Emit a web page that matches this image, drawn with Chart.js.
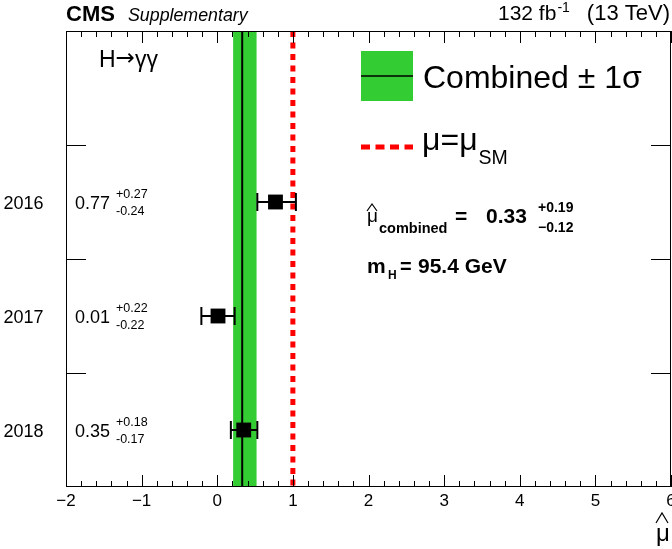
<!DOCTYPE html>
<html>
<head>
<meta charset="utf-8">
<script src="https://cdn.jsdelivr.net/npm/chart.js@4/dist/chart.umd.min.js"></script>
<style>
    html, body { margin: 0; padding: 0; background: #fff; }
    #wrap { width: 672px; height: 549px; position: relative; }
</style>
</head>
<body>
<div id="wrap"><canvas id="muChart" width="672" height="549"></canvas></div>
<script>
const years = ['2016', '2017', '2018'];
const muValues = [0.77, 0.01, 0.35];
const muErrUp = [0.27, 0.22, 0.18];
const muErrDown = [0.24, 0.22, 0.17];

const combinedMu = 0.33;
const combinedErrUp = 0.19;
const combinedErrDown = 0.12;
const smMu = 1;
const massLabel = '95.4 GeV';

const xTickValues = [-2, -1, 0, 1, 2, 3, 4, 5, 6];
const xTickLabels = ['\u22122', '\u22121', '0', '1', '2', '3', '4', '5', '6'];
const xMinorStep = 0.2;

const FONT = '"Liberation Sans", Arial, Helvetica, sans-serif';
const GREEN = '#33cc33';
const RED = '#ff0000';

// one empty slot on top for the channel label / legend
const ySlots = years.length + 1;
const rowY = i => years.length - i - 0.5;

function setFont(ctx, size, style, family) {
    ctx.font = `${style || ''} ${size}px ${family || FONT}`;
}

function text(ctx, str, x, y, size, style, align, family) {
    setFont(ctx, size, style, family);
    ctx.textAlign = align || 'left';
    ctx.textBaseline = 'alphabetic';
    ctx.fillStyle = '#000';
    ctx.fillText(str, x, y);
    return ctx.measureText(str).width;
}

function hat(ctx, x, y, w, h) {
    ctx.save();
    ctx.strokeStyle = '#000';
    ctx.lineWidth = 1.2;
    ctx.beginPath();
    ctx.moveTo(x, y);
    ctx.lineTo(x + w / 2, y - h);
    ctx.lineTo(x + w, y);
    ctx.stroke();
    ctx.restore();
}

const bandPlugin = {
    id: 'band',
    beforeDatasetsDraw(chart) {
        const { ctx, chartArea, scales: { x } } = chart;
        const lo = x.getPixelForValue(combinedMu - combinedErrDown);
        const hi = x.getPixelForValue(combinedMu + combinedErrUp);
        ctx.save();
        ctx.fillStyle = GREEN;
        ctx.fillRect(lo, chartArea.top, hi - lo, chartArea.bottom - chartArea.top);
        ctx.restore();
    }
};

const decorPlugin = {
    id: 'decor',
    afterDatasetsDraw(chart) {
        const { ctx, chartArea: a, scales: { x, y } } = chart;
        ctx.save();
        ctx.strokeStyle = '#000';
        ctx.lineWidth = 1;

        // frame
        ctx.strokeRect(a.left + 0.5, a.top + 0.5, a.right - a.left - 1, a.bottom - a.top - 1);

        // x ticks, bottom and top, pointing inwards
        ctx.beginPath();
        const first = xTickValues[0];
        const last = xTickValues[xTickValues.length - 1];
        const nMinor = Math.round((last - first) / xMinorStep);
        for (let k = 0; k <= nMinor; k++) {
            const v = first + k * xMinorStep;
            const major = Math.abs(v - Math.round(v)) < 1e-6;
            const len = major ? 12 : 6;
            const px = Math.round(x.getPixelForValue(v)) + 0.5;
            ctx.moveTo(px, a.bottom);
            ctx.lineTo(px, a.bottom - len);
            ctx.moveTo(px, a.top);
            ctx.lineTo(px, a.top + len);
        }
        // y ticks on slot boundaries
        for (let b = 1; b < ySlots; b++) {
            const py = Math.round(y.getPixelForValue(b)) + 0.5;
            ctx.moveTo(a.left, py);
            ctx.lineTo(a.left + 20, py);
            ctx.moveTo(a.right, py);
            ctx.lineTo(a.right - 20, py);
        }
        ctx.stroke();

        // x tick labels
        xTickValues.forEach((v, i) => {
            text(ctx, xTickLabels[i], x.getPixelForValue(v), 506, 17, '', 'center');
        });

        // axis title
        text(ctx, '\u03bc', 656, 541, 24);
        hat(ctx, 656, 523, 12, 10);

        // year labels and per-year results
        years.forEach((yr, i) => {
            const py = y.getPixelForValue(rowY(i));
            text(ctx, yr, 23.5, py + 6.5, 18, '', 'center');
            text(ctx, muValues[i].toFixed(2), 110, py + 6.5, 18, '', 'right');
            text(ctx, '+' + muErrUp[i].toFixed(2), 116, py - 4, 12.5);
            text(ctx, '-' + muErrDown[i].toFixed(2), 116, py + 13, 12.5);
        });

        // header
        text(ctx, 'CMS', 66, 21, 22, 'bold');
        text(ctx, 'Supplementary', 128, 21, 17.8, 'italic');
        text(ctx, '(13 TeV)', 670, 20, 22, '', 'right');
        let hx = 498;
        hx += text(ctx, '132 fb', hx, 20, 21);
        text(ctx, '-1', hx + 1, 12, 14);

        // channel label
        let cx = 99;
        cx += text(ctx, 'H', cx, 67, 23);
        cx += text(ctx, '\u2192', cx, 65, 23, '', 'left', '"DejaVu Sans", sans-serif');
        text(ctx, '\u03b3\u03b3', cx, 67, 23);

        // legend: combined band
        ctx.fillStyle = GREEN;
        ctx.fillRect(361, 51, 52, 50);
        ctx.beginPath();
        ctx.strokeStyle = '#000';
        ctx.lineWidth = 1.5;
        ctx.moveTo(361, 76);
        ctx.lineTo(413, 76);
        ctx.stroke();
        text(ctx, 'Combined \u00b1 1\u03c3', 423, 88, 32);

        // legend: SM line
        ctx.beginPath();
        ctx.strokeStyle = RED;
        ctx.lineWidth = 5;
        ctx.setLineDash([9, 5.5]);
        ctx.moveTo(361, 147);
        ctx.lineTo(413, 147);
        ctx.stroke();
        ctx.setLineDash([]);
        const w = text(ctx, '\u03bc=\u03bc', 422, 150, 32);
        text(ctx, 'SM', 422 + w + 1, 164, 19.5);

        // combined result
        text(ctx, '\u03bc', 367, 222, 19);
        hat(ctx, 367, 211, 10, 7);
        text(ctx, 'combined', 379, 233, 14.5, 'bold');
        text(ctx, '=', 455, 223, 21, 'bold');
        text(ctx, combinedMu.toFixed(2), 486, 223, 21, 'bold');
        text(ctx, '+' + combinedErrUp.toFixed(2), 538, 212, 14, 'bold');
        text(ctx, '\u2212' + combinedErrDown.toFixed(2), 538, 232, 14, 'bold');

        // mass
        text(ctx, 'm', 367, 273, 21, 'bold');
        text(ctx, 'H', 388, 279, 12, 'bold');
        text(ctx, '=', 400, 273, 20, 'bold');
        text(ctx, massLabel, 418, 273, 21, 'bold');

        ctx.restore();
    }
};

const pointData = years.map((yr, i) => ({ x: muValues[i], y: rowY(i) }));

const errorSets = years.map((yr, i) => ({
    label: 'err ' + yr,
    data: [
        { x: muValues[i] - muErrDown[i], y: rowY(i) },
        { x: muValues[i] + muErrUp[i], y: rowY(i) }
    ],
    showLine: true,
    borderColor: '#000',
    borderWidth: 2,
    pointStyle: 'line',
    rotation: 90,
    pointRadius: 9,
    pointBorderWidth: 2,
    pointBorderColor: '#000'
}));

const ctx = document.getElementById('muChart').getContext('2d');
const muChart = new Chart(ctx, {
    type: 'scatter',
    data: {
        datasets: [
            {
                label: 'years',
                data: pointData,
                pointStyle: 'rect',
                pointRadius: 10.5,
                backgroundColor: '#000',
                borderWidth: 0
            },
            ...errorSets,
            {
                label: 'combined',
                data: [{ x: combinedMu, y: 0 }, { x: combinedMu, y: ySlots }],
                showLine: true,
                borderColor: '#000',
                borderWidth: 2,
                pointRadius: 0
            },
            {
                label: 'SM',
                data: [{ x: smMu, y: ySlots }, { x: smMu, y: 0 }],
                showLine: true,
                borderColor: RED,
                borderWidth: 5,
                borderDash: [6, 5.5],
                pointRadius: 0
            }
        ]
    },
    options: {
        responsive: false,
        animation: false,
        events: [],
        layout: { autoPadding: false, padding: { left: 66, right: 1, top: 31, bottom: 62 } },
        plugins: { legend: { display: false }, tooltip: { enabled: false } },
        scales: {
            x: { type: 'linear', min: xTickValues[0], max: xTickValues[xTickValues.length - 1], display: false },
            y: { type: 'linear', min: 0, max: ySlots, display: false }
        }
    },
    plugins: [bandPlugin, decorPlugin]
});
</script>
</body>
</html>
